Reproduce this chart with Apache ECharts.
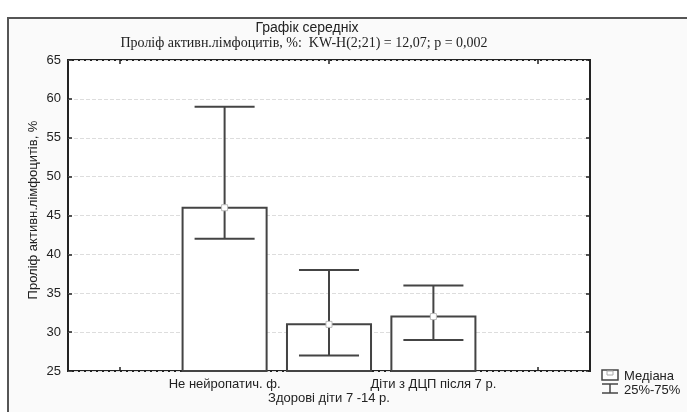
<!DOCTYPE html>
<html><head><meta charset="utf-8">
<script src="https://cdn.jsdelivr.net/npm/echarts@6/dist/echarts.min.js"></script>
<style>html,body{margin:0;padding:0;background:#fff}#c{width:687px;height:412px}</style>
</head><body><div id="c"></div>
<script>
const categories = ['', 'Не нейропатич. ф.', 'Здорові діти 7 -14 р.', 'Діти з ДЦП після 7 р.', ''];
const medians = [null, 46, 31, 32, null];
const q25 = [null, 42, 27, 29, null];
const q75 = [null, 59, 38, 36, null];
const yTicks = [25, 30, 35, 40, 45, 50, 55, 60, 65];

const FONT = '"Liberation Sans", Arial, sans-serif';
const chart = echarts.init(document.getElementById('c'));
const data = [];
for (let i = 0; i < categories.length; i++) {
  if (medians[i] != null) data.push([i, medians[i], q25[i], q75[i]]);
}
const yMin = yTicks[0], yMax = yTicks[yTicks.length - 1];

function renderItem(params, api) {
  const i = api.value(0);
  const pMed = api.coord([i, api.value(1)]);
  const pLo = api.coord([i, api.value(2)]);
  const pHi = api.coord([i, api.value(3)]);
  const pBase = api.coord([i, yMin]);
  const band = api.size([1, 0])[0];
  const bw = band * 0.805, cw = band * 0.575;
  const x = pMed[0];
  const st = {stroke: '#444', lineWidth: 2, fill: null};
  return {
    type: 'group',
    children: [
      {type: 'rect', shape: {x: x - bw / 2, y: pMed[1], width: bw, height: pBase[1] - pMed[1]},
       style: {fill: '#fff', stroke: '#444', lineWidth: 2}},
      {type: 'line', shape: {x1: x, y1: pLo[1], x2: x, y2: pHi[1]}, style: st},
      {type: 'line', shape: {x1: x - cw / 2, y1: pLo[1], x2: x + cw / 2, y2: pLo[1]}, style: st},
      {type: 'line', shape: {x1: x - cw / 2, y1: pHi[1], x2: x + cw / 2, y2: pHi[1]}, style: st},
      {type: 'rect', shape: {x: x - 3, y: pMed[1] - 3, width: 6, height: 6},
       style: {fill: '#fff', stroke: '#bbb', lineWidth: 1}}
    ]
  };
}

chart.setOption({
  animation: false,
  backgroundColor: '#fff',
  graphic: [
    {type: 'rect', z: -10, shape: {x: 8, y: 18, width: 700, height: 420},
     style: {fill: '#fafafa', stroke: '#555', lineWidth: 2}},
    {type: 'text', x: 307, y: 28, style: {text: 'Графік середніх', font: '14px ' + FONT, fill: '#222', textAlign: 'center', textVerticalAlign: 'middle'}},
    {type: 'text', x: 304, y: 43, style: {text: 'Проліф активн.лімфоцитів, %:  KW-H(2;21) = 12,07; p = 0,002', font: '14px "Liberation Serif", "Times New Roman", serif', fill: '#222', textAlign: 'center', textVerticalAlign: 'middle'}},
    {type: 'text', x: 33, y: 210, rotation: Math.PI / 2, style: {text: 'Проліф активн.лімфоцитів, %', font: '13px ' + FONT, fill: '#222', textAlign: 'center', textVerticalAlign: 'middle'}},
    {type: 'group', x: 602, y: 370, children: [
      {type: 'rect', shape: {x: 0, y: 0, width: 16, height: 10}, style: {fill: '#fff', stroke: '#444', lineWidth: 1.5}},
      {type: 'rect', shape: {x: 5, y: 1, width: 6, height: 4}, style: {fill: '#fff', stroke: '#aaa', lineWidth: 1}},
      {type: 'line', shape: {x1: 0, y1: 14, x2: 16, y2: 14}, style: {stroke: '#444', lineWidth: 1.5}},
      {type: 'line', shape: {x1: 8, y1: 14, x2: 8, y2: 23}, style: {stroke: '#444', lineWidth: 1.5}},
      {type: 'line', shape: {x1: 0, y1: 23, x2: 16, y2: 23}, style: {stroke: '#444', lineWidth: 1.5}}
    ]},
    {type: 'text', x: 624, y: 376, style: {text: 'Медіана', font: '13px ' + FONT, fill: '#222', textVerticalAlign: 'middle'}},
    {type: 'text', x: 624, y: 390, style: {text: '25%-75%', font: '13px ' + FONT, fill: '#222', textVerticalAlign: 'middle'}}
  ],
  grid: {left: 68, right: 97, top: 60, bottom: 41, show: true, backgroundColor: '#fff', borderColor: '#222', borderWidth: 2, containLabel: false},
  xAxis: [
    {type: 'category', data: categories, position: 'bottom',
     axisLine: {show: false},
     axisTick: {show: true, inside: true, alignWithLabel: true, length: 4, lineStyle: {color: '#222', width: 1.5}},
     axisLabel: {interval: 0, margin: 6, fontSize: 13, fontFamily: FONT, color: '#222', lineHeight: 14,
       formatter: (v, idx) => idx === 2 ? '\n' + v : v},
     splitLine: {show: false}},
    {type: 'category', data: categories, position: 'top',
     axisLine: {show: false},
     axisTick: {show: true, inside: true, alignWithLabel: true, length: 4, lineStyle: {color: '#222', width: 1.5}},
     axisLabel: {show: false}, splitLine: {show: false}}
  ],
  yAxis: [
    {type: 'value', min: yMin, max: yMax, interval: 5, position: 'left',
     axisLine: {show: false},
     axisTick: {show: true, inside: true, length: 4, lineStyle: {color: '#222', width: 1.5}},
     axisLabel: {fontSize: 13, fontFamily: FONT, color: '#222', margin: 7},
     splitLine: {show: true, lineStyle: {color: '#ddd', type: 'dashed', width: 1}}},
    {type: 'value', min: yMin, max: yMax, interval: 5, position: 'right',
     axisLine: {show: false},
     axisTick: {show: true, inside: true, length: 4, lineStyle: {color: '#222', width: 1.5}},
     axisLabel: {show: false}, splitLine: {show: false}}
  ],
  series: [{
    type: 'custom', renderItem: renderItem, data: data, clip: false,
    encode: {x: 0, y: [1, 2, 3]}
  }]
});
</script></body></html>
